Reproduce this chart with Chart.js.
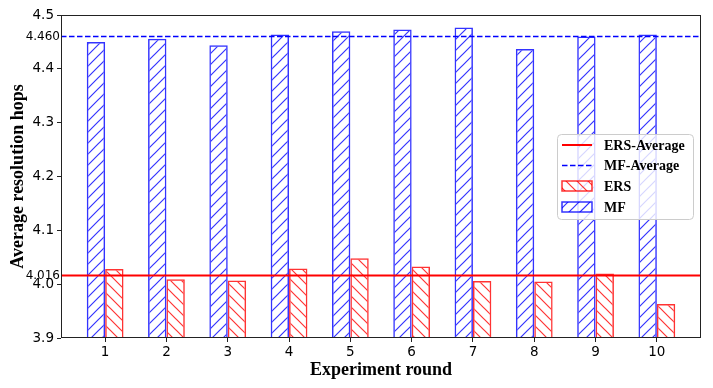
<!DOCTYPE html>
<html>
<head>
<meta charset="utf-8">
<script src="https://cdn.jsdelivr.net/npm/chart.js@4"></script>
<style>
	body { margin: 0; background: #fff; }
	#wrap { width: 713px; height: 388px; }
</style>
</head>
<body>
<div id="wrap"><canvas id="hopsChart"></canvas></div>
<script>
const rounds = [1, 2, 3, 4, 5, 6, 7, 8, 9, 10];
const mfHops = [4.450, 4.456, 4.444, 4.464, 4.470, 4.473, 4.477, 4.437, 4.460, 4.464];
const ersHops = [4.028, 4.009, 4.007, 4.029, 4.048, 4.033, 4.006, 4.005, 4.020, 3.963];
const mfAverage = 4.460;
const ersAverage = 4.016;
const xRange = [0.28, 10.72];
const yRange = [3.9, 4.5];
const averageLabels = ['4.460', '4.016'];
const legendLabels = ['ERS-Average', 'MF-Average', 'ERS', 'MF'];

(() => {
	'use strict'

	const blue = 'rgba(0, 0, 255, 0.8)';
	const red = 'rgba(255, 0, 0, 0.8)';
	const serif = '"Liberation Serif", "Times New Roman", serif';
	const sans = '"DejaVu Sans", sans-serif';

	// hatch tiles, "/" for MF and "\" for ERS
	function makeHatch(color, forward) {
		const size = 11;
		const tile = document.createElement('canvas');
		tile.width = size;
		tile.height = size;
		const c = tile.getContext('2d');
		c.strokeStyle = color;
		c.lineWidth = 1.2;
		c.beginPath();
		if (forward) {
			c.moveTo(-1, size + 1); c.lineTo(size + 1, -1);
			c.moveTo(-1, 1); c.lineTo(1, -1);
			c.moveTo(size - 1, size + 1); c.lineTo(size + 1, size - 1);
		} else {
			c.moveTo(-1, -1); c.lineTo(size + 1, size + 1);
			c.moveTo(size - 1, -1); c.lineTo(size + 1, 1);
			c.moveTo(-1, size - 1); c.lineTo(1, size + 1);
		}
		c.stroke();
		return c.createPattern(tile, 'repeat');
	}

	const ctx = document.getElementById('hopsChart');
	const mfPattern = makeHatch(blue, true);
	const ersPattern = makeHatch(red, false);

	const toPoints = (values) => values.map((v, i) => ({ x: rounds[i], y: v }));

	const sideLabels = {
		id: 'sideLabels',
		afterDraw(chart) {
			const c = chart.ctx;
			const y = chart.scales.y;
			const area = chart.chartArea;
			c.save();
			c.font = '12px ' + sans;
			c.fillStyle = '#000';
			c.textAlign = 'right';
			c.textBaseline = 'middle';
			c.fillText(averageLabels[0], area.left - 1, y.getPixelForValue(mfAverage));
			c.fillText(averageLabels[1], area.left - 1, y.getPixelForValue(ersAverage));

			// frame on all four sides
			c.strokeStyle = '#222';
			c.lineWidth = 1;
			c.strokeRect(area.left + 0.5, area.top + 0.5, area.right - area.left - 1, area.bottom - area.top - 1);
			c.restore();
		}
	};

	const boxLegend = {
		id: 'boxLegend',
		afterDraw(chart) {
			const c = chart.ctx;
			const area = chart.chartArea;
			const left = area.right - 144;
			const top = 134;
			const w = 136;
			const h = 85;
			c.save();
			c.beginPath();
			c.roundRect(left + 0.5, top + 0.5, w, h, 4);
			c.fillStyle = 'rgba(255, 255, 255, 0.8)';
			c.fill();
			c.strokeStyle = '#cccccc';
			c.lineWidth = 1;
			c.stroke();

			const hx = left + 5;
			const rows = [top + 11, top + 31.5, top + 52, top + 73];

			c.lineWidth = 2;
			c.strokeStyle = '#ff0000';
			c.beginPath();
			c.moveTo(hx, rows[0]); c.lineTo(hx + 30, rows[0]);
			c.stroke();

			c.lineWidth = 1.5;
			c.strokeStyle = '#0000ff';
			c.setLineDash([5.5, 2.5]);
			c.beginPath();
			c.moveTo(hx, rows[1]); c.lineTo(hx + 30, rows[1]);
			c.stroke();
			c.setLineDash([]);

			c.fillStyle = ersPattern;
			c.fillRect(hx, rows[2] - 5, 30, 10);
			c.strokeStyle = red;
			c.strokeRect(hx, rows[2] - 5, 30, 10);

			c.fillStyle = mfPattern;
			c.fillRect(hx, rows[3] - 5, 30, 10);
			c.strokeStyle = blue;
			c.strokeRect(hx, rows[3] - 5, 30, 10);

			c.font = 'bold 14px ' + serif;
			c.fillStyle = '#000';
			c.textBaseline = 'middle';
			legendLabels.forEach((label, i) => {
				c.fillText(label, hx + 42, rows[i] + 1);
			});
			c.restore();
		}
	};

	new Chart(ctx, {
		type: 'bar',
		data: {
			datasets: [
				{
					type: 'line',
					label: 'ERS-Average',
					data: [{ x: xRange[0], y: ersAverage }, { x: xRange[1], y: ersAverage }],
					borderColor: '#ff0000',
					borderWidth: 2,
					pointRadius: 0,
					order: 0
				},
				{
					type: 'line',
					label: 'MF-Average',
					data: [{ x: xRange[0], y: mfAverage }, { x: xRange[1], y: mfAverage }],
					borderColor: '#0000ff',
					borderWidth: 1.5,
					borderDash: [5.5, 2.5],
					pointRadius: 0,
					order: 0
				},
				{
					label: 'MF',
					data: toPoints(mfHops),
					backgroundColor: mfPattern,
					borderColor: blue,
					borderWidth: 1.5,
					categoryPercentage: 0.6,
					barPercentage: 1,
					order: 1
				},
				{
					label: 'ERS',
					data: toPoints(ersHops),
					backgroundColor: ersPattern,
					borderColor: red,
					borderWidth: 1.5,
					categoryPercentage: 0.6,
					barPercentage: 1,
					order: 1
				}
			]
		},
		options: {
			responsive: true,
			maintainAspectRatio: false,
			animation: false,
			layout: {
				padding: { left: 0, top: 15, right: 12, bottom: 0 }
			},
			plugins: {
				legend: { display: false },
				tooltip: { enabled: false }
			},
			scales: {
				x: {
					type: 'linear',
					min: xRange[0],
					max: xRange[1],
					offset: false,
					afterBuildTicks: function(scale) {
						scale.ticks = rounds.map((v) => ({ value: v }));
					},
					afterFit: function(scale) {
						scale.height = 50;
					},
					grid: {
						display: true,
						drawOnChartArea: false,
						drawTicks: true,
						tickLength: 4,
						color: '#222',
						offset: false
					},
					border: { display: false },
					ticks: {
						color: '#000',
						padding: 2,
						font: { family: sans, size: 13.5 },
						callback: function(value) {
							return String(value);
						}
					},
					title: {
						display: true,
						text: 'Experiment round',
						color: '#000',
						font: { family: serif, size: 18, weight: 'bold' },
						padding: { top: 0, bottom: 7 }
					}
				},
				y: {
					min: yRange[0],
					max: yRange[1],
					afterFit: function(scale) {
						scale.width = 61;
					},
					grid: {
						display: true,
						drawOnChartArea: false,
						drawTicks: true,
						tickLength: 4,
						color: '#222'
					},
					border: { display: false },
					ticks: {
						stepSize: 0.1,
						color: '#000',
						padding: 3,
						font: { family: sans, size: 13.5 },
						callback: function(value) {
							return value.toFixed(1);
						}
					},
					title: {
						display: true,
						text: 'Average resolution hops',
						color: '#000',
						font: { family: serif, size: 18, weight: 'bold' },
						padding: { top: 8, bottom: 0 }
					}
				}
			}
		},
		plugins: [sideLabels, boxLegend]
	});
})()
</script>
</body>
</html>
